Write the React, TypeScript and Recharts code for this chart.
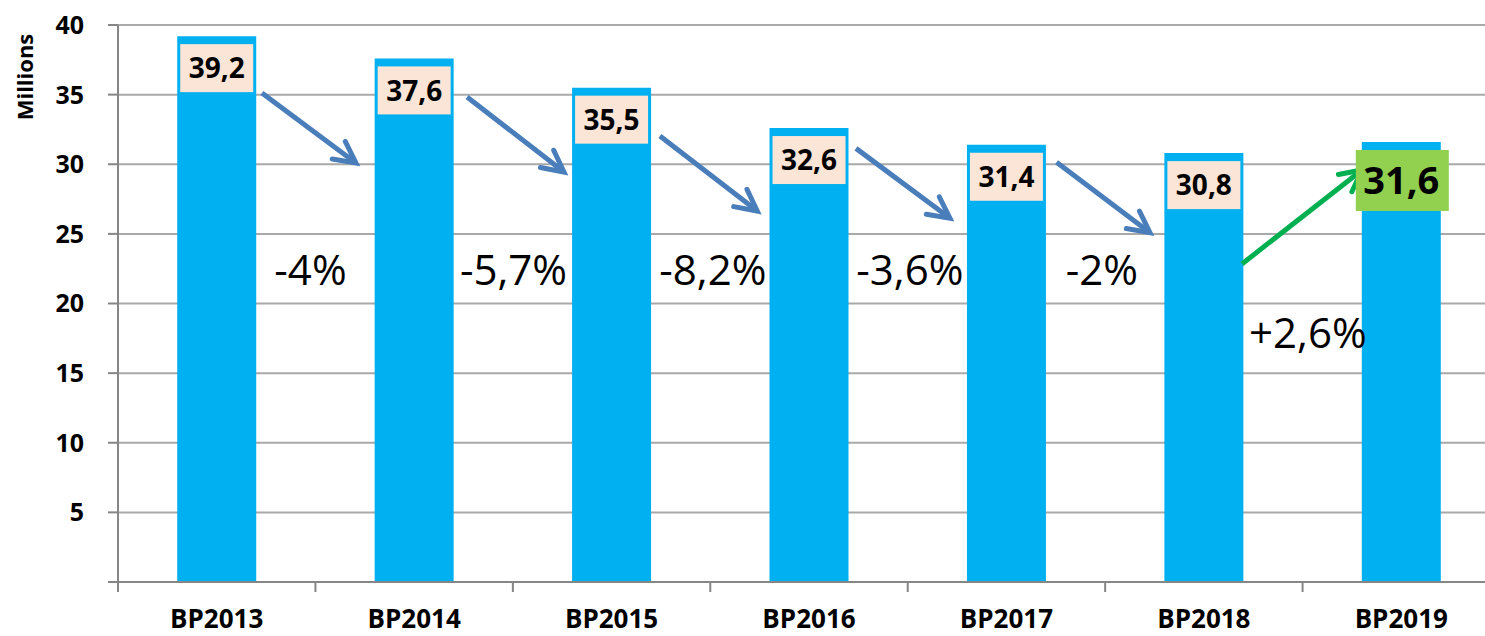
import React from 'react';
import { BarChart, Bar, XAxis, YAxis, CartesianGrid, LabelList, ReferenceLine, ReferenceDot } from 'recharts';

// ---- data ----
const categories = ['BP2013', 'BP2014', 'BP2015', 'BP2016', 'BP2017', 'BP2018', 'BP2019'];
const values = [39.2, 37.6, 35.5, 32.6, 31.4, 30.8, 31.6];
const yTicks = [0, 5, 10, 15, 20, 25, 30, 35, 40];
const changeLabels = ['-4%', '-5,7%', '-8,2%', '-3,6%', '-2%', '+2,6%'];
// annotation positions in (category-band units, value units)
const changeLabelX = [0.975, 2.003, 3.013, 4.011, 4.984, 6.027];
const changeLabelY = [21.33, 21.33, 21.33, 21.33, 21.33, 16.8];
const arrowStartX = [0.729, 1.768, 2.745, 3.738, 4.754, 5.693];
const arrowStartY = [35.12, 34.83, 32.03, 31.14, 30.14, 22.84];
const arrowEndX = [1.205, 2.259, 3.238, 4.214, 5.227, 6.301];
const arrowEndY = [30.09, 29.44, 26.64, 26.12, 25.08, 29.59];

const data = categories.map((name, i) => ({ name, value: values[i], pos: i + 0.5 }));

// ---- layout ----
const CHART_W = 1520;
const CHART_H = 636;
const MARGIN = { top: 25, right: 20, left: 0, bottom: 0 };
const YAXIS_W = 118;
const XAXIS_H = 54;
const PLOT_W = CHART_W - MARGIN.right - MARGIN.left - YAXIS_W;
const X_TICK_MARGIN = 28;
const FONT = '"Open Sans", "Noto Sans", sans-serif';
const AXIS_COLOR = '#868686';
const GRID_COLOR = '#a9a9a9';
const BAR_COLOR = '#00B0F0';
const BLUE_ARROW = '#4A7EBB';
const GREEN_ARROW = '#00B050';

const fmt = (v: number) => v.toFixed(1).replace('.', ',');

const YTick = (props: any) => {
  const { x, y, payload } = props;
  if (payload.value === 0) return <g />;
  return (
    <text x={x} y={y} dy="0.355em" textAnchor="end" fontFamily={FONT} fontWeight={700} fontSize={25} fill="#000">
      {payload.value}
    </text>
  );
};

const XTick = (props: any) => {
  const { x, y, payload, index } = props;
  const band = PLOT_W / categories.length;
  const axisY = y - X_TICK_MARGIN;
  const left = x - band / 2;
  return (
    <g>
      <line x1={left} x2={left} y1={axisY} y2={axisY + 10} stroke={AXIS_COLOR} strokeWidth={2} />
      {index === categories.length - 1 && (
        <line x1={x + band / 2} x2={x + band / 2} y1={axisY} y2={axisY + 10} stroke={AXIS_COLOR} strokeWidth={2} />
      )}
      <text x={x} y={y} dy="0.71em" textAnchor="middle" fontFamily={FONT} fontWeight={700} fontSize={26} fill="#000">
        {payload.value}
      </text>
    </g>
  );
};

const ValueLabel = (props: any) => {
  const { x, y, width, value, index } = props;
  const last = index === values.length - 1;
  if (last) {
    const bx = x - 6;
    const bw = width + 14;
    return (
      <g>
        <rect x={bx} y={y + 8} width={bw} height={61} fill="#92D050" />
        <text x={x + width / 2} y={y + 8 + 30.5} dy="0.36em" textAnchor="middle" fontFamily={FONT} fontWeight={700} fontSize={38} fill="#000">
          {fmt(value)}
        </text>
      </g>
    );
  }
  return (
    <g>
      <rect x={x + 3} y={y + 8} width={width - 6} height={48} fill="#FBE5D6" />
      <text x={x + width / 2} y={y + 8 + 24} dy="0.36em" textAnchor="middle" fontFamily={FONT} fontWeight={700} fontSize={28} fill="#000">
        {fmt(value)}
      </text>
    </g>
  );
};

const makeArrow = (color: string) => (props: any) => {
  const { x1, y1, x2, y2 } = props;
  const ang = Math.atan2(y2 - y1, x2 - x1);
  const L = 24;
  const a = (27 * Math.PI) / 180;
  const b1x = x2 - L * Math.cos(ang - a);
  const b1y = y2 - L * Math.sin(ang - a);
  const b2x = x2 - L * Math.cos(ang + a);
  const b2y = y2 - L * Math.sin(ang + a);
  const sx = x2 - 2 * Math.cos(ang);
  const sy = y2 - 2 * Math.sin(ang);
  return (
    <g>
      <line x1={x1} y1={y1} x2={sx} y2={sy} stroke={color} strokeWidth={5} />
      <polyline
        points={`${b1x},${b1y} ${x2},${y2} ${b2x},${b2y}`}
        fill="none"
        stroke={color}
        strokeWidth={5}
        strokeLinejoin="miter"
        strokeLinecap="round"
      />
    </g>
  );
};

const blueArrow = makeArrow(BLUE_ARROW);
const greenArrow = makeArrow(GREEN_ARROW);

const makeChangeText = (text: string) => (props: any) => {
  const { cx, cy } = props;
  return (
    <text x={cx} y={cy} textAnchor="middle" fontFamily={FONT} fontSize={42} fill="#000">
      {text}
    </text>
  );
};

const MillionsLabel = (props: any) => {
  const vb = props.viewBox || { x: 0, y: MARGIN.top };
  return (
    <text
      transform={`translate(${vb.x + 33}, ${vb.y + 52}) rotate(-90)`}
      textAnchor="middle"
      fontFamily={FONT}
      fontWeight={700}
      fontSize={22}
      fill="#000"
    >
      Millions
    </text>
  );
};

export default function App() {
  return (
    <div
      style={{
        position: 'absolute',
        left: 0,
        top: 0,
        width: 1485,
        height: 636,
        overflow: 'hidden',
        background: '#fff',
        fontFamily: FONT,
      }}
    >
      <BarChart width={CHART_W} height={CHART_H} data={data} margin={MARGIN} barCategoryGap="30%">
        <CartesianGrid vertical={false} stroke={GRID_COLOR} strokeWidth={2} />
        <XAxis
          dataKey="name"
          height={XAXIS_H}
          axisLine={{ stroke: AXIS_COLOR, strokeWidth: 2 }}
          tickLine={false}
          tickSize={0}
          tickMargin={X_TICK_MARGIN}
          interval={0}
          tick={<XTick />}
        />
        <XAxis xAxisId="num" type="number" dataKey="pos" domain={[0, 7]} allowDataOverflow hide />
        <YAxis
          width={YAXIS_W}
          domain={[0, 40]}
          ticks={yTicks}
          interval={0}
          axisLine={{ stroke: AXIS_COLOR, strokeWidth: 2 }}
          tickLine={{ stroke: AXIS_COLOR, strokeWidth: 2 }}
          tickSize={10}
          tickMargin={24}
          tick={<YTick />}
          label={MillionsLabel}
        />
        <Bar dataKey="value" fill={BAR_COLOR} isAnimationActive={false}>
          <LabelList dataKey="value" content={ValueLabel} />
        </Bar>
        {arrowStartX.map((sx, i) => (
          <ReferenceLine
            key={`arrow-${i}`}
            xAxisId="num"
            ifOverflow="visible"
            segment={[
              { x: sx, y: arrowStartY[i] },
              { x: arrowEndX[i], y: arrowEndY[i] },
            ]}
            shape={i === arrowStartX.length - 1 ? greenArrow : blueArrow}
          />
        ))}
        {changeLabels.map((t, i) => (
          <ReferenceDot
            key={`chg-${i}`}
            xAxisId="num"
            ifOverflow="visible"
            x={changeLabelX[i]}
            y={changeLabelY[i]}
            r={0}
            shape={makeChangeText(t)}
          />
        ))}
      </BarChart>
    </div>
  );
}
